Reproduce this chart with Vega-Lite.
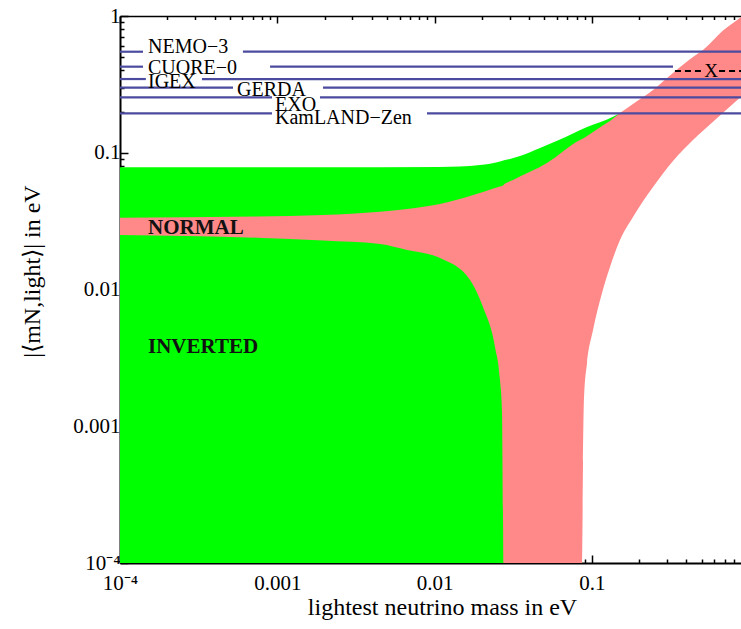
{
  "$schema": "https://vega.github.io/schema/vega-lite/v6.json",
  "width": 621,
  "height": 547,
  "autosize": {"type": "none"},
  "padding": {"left": 120, "top": 16, "right": 0, "bottom": 66},
  "background": "white",
  "config": {
    "view": {"stroke": null},
    "axis": {
      "labelFont": "Liberation Serif",
      "titleFont": "Liberation Serif",
      "labelColor": "black",
      "titleColor": "black",
      "domainColor": "black",
      "tickColor": "black",
      "grid": false,
      "labelFontSize": 21,
      "titleFontSize": 24,
      "titleFontWeight": "normal"
    }
  },
  "datasets": {
    "green": [
      {"x": 0.0001, "lo": 0.0001, "hi": 0.0782},
      {"x": 0.001954, "lo": 0.0001, "hi": 0.0782},
      {"x": 0.01084, "lo": 0.0001, "hi": 0.0787},
      {"x": 0.01453, "lo": 0.0001, "hi": 0.0793},
      {"x": 0.01947, "lo": 0.0001, "hi": 0.0813},
      {"x": 0.02609, "lo": 0.0001, "hi": 0.0863},
      {"x": 0.02806, "lo": 0.0001, "hi": 0.0885},
      {"x": 0.0302, "lo": 0.05, "hi": 0.0902},
      {"x": 0.03497, "lo": 0.055, "hi": 0.0946},
      {"x": 0.0469, "lo": 0.068, "hi": 0.1083},
      {"x": 0.0628, "lo": 0.085, "hi": 0.125},
      {"x": 0.0933, "lo": 0.11, "hi": 0.1543},
      {"x": 0.1365, "lo": 0.165, "hi": 0.1835},
      {"x": 0.1512, "lo": 0.1953, "hi": 0.1953}
    ],
    "pink": [
      {"x": 0.0001, "lo": 0.02503, "hi": 0.0335},
      {"x": 0.000743, "lo": 0.02392, "hi": 0.03419},
      {"x": 0.001954, "lo": 0.02282, "hi": 0.03506},
      {"x": 0.0045, "lo": 0.02151, "hi": 0.03706},
      {"x": 0.00669, "lo": 0.01945, "hi": 0.03879},
      {"x": 0.01084, "lo": 0.01699, "hi": 0.04218},
      {"x": 0.01682, "lo": 0.01173, "hi": 0.04828},
      {"x": 0.02034, "lo": 0.00745, "hi": 0.05164},
      {"x": 0.02425, "lo": 0.0038, "hi": 0.05524},
      {"x": 0.02609, "lo": 0.00218, "hi": 0.05666},
      {"x": 0.02687, "lo": 0.00125, "hi": 0.05714},
      {"x": 0.02727, "lo": 0.000206, "hi": 0.05762},
      {"x": 0.02747, "lo": 0.0001, "hi": 0.0581},
      {"x": 0.03157, "lo": 0.0001, "hi": 0.0632},
      {"x": 0.0519, "lo": 0.0001, "hi": 0.08414},
      {"x": 0.0842, "lo": 0.0001, "hi": 0.124},
      {"x": 0.0867, "lo": 0.0001, "hi": 0.126},
      {"x": 0.088, "lo": 0.000539, "hi": 0.1271},
      {"x": 0.0893, "lo": 0.001637, "hi": 0.1282},
      {"x": 0.0933, "lo": 0.002901, "hi": 0.1326},
      {"x": 0.1019, "lo": 0.005056, "hi": 0.1418},
      {"x": 0.1162, "lo": 0.009428, "hi": 0.1569},
      {"x": 0.1306, "lo": 0.01461, "hi": 0.1707},
      {"x": 0.1512, "lo": 0.02301, "hi": 0.1953},
      {"x": 0.1829, "lo": 0.0339, "hi": 0.2273},
      {"x": 0.2452, "lo": 0.05617, "hi": 0.2877},
      {"x": 0.3286, "lo": 0.0871, "hi": 0.383},
      {"x": 0.4404, "lo": 0.124, "hi": 0.5013},
      {"x": 0.5098, "lo": 0.145, "hi": 0.564},
      {"x": 0.6835, "lo": 0.196, "hi": 0.7834},
      {"x": 0.8894, "lo": 0.257, "hi": 0.9833},
      {"x": 1.0, "lo": 0.289, "hi": 1.106}
    ],
    "limits": [
      {"name": "NEMO-3", "y": 0.548, "x1": 0.0001, "x2": 0.00014},
      {"name": "NEMO-3", "y": 0.548, "x1": 0.000605, "x2": 1},
      {"name": "CUORE-0", "y": 0.426, "x1": 0.0001, "x2": 0.00014},
      {"name": "CUORE-0", "y": 0.426, "x1": 0.0009, "x2": 0.3286},
      {"name": "IGEX", "y": 0.346, "x1": 0.0001, "x2": 0.000146},
      {"name": "IGEX", "y": 0.346, "x1": 0.000332, "x2": 1},
      {"name": "GERDA", "y": 0.299, "x1": 0.0001, "x2": 0.000523},
      {"name": "GERDA", "y": 0.299, "x1": 0.001954, "x2": 1},
      {"name": "EXO", "y": 0.2544, "x1": 0.0001, "x2": 0.000926},
      {"name": "EXO", "y": 0.2544, "x1": 0.00187, "x2": 1},
      {"name": "KamLAND-Zen", "y": 0.1943, "x1": 0.0001, "x2": 0.000926},
      {"name": "KamLAND-Zen", "y": 0.1943, "x1": 0.00896, "x2": 1}
    ],
    "limitLabels": [
      {"label": "NEMO−3", "x": 0.0001507, "y": 0.593},
      {"label": "CUORE−0", "x": 0.0001507, "y": 0.4166},
      {"label": "IGEX", "x": 0.0001507, "y": 0.3293},
      {"label": "GERDA", "x": 0.000555, "y": 0.2877},
      {"label": "EXO", "x": 0.000968, "y": 0.2234},
      {"label": "KamLAND−Zen", "x": 0.000968, "y": 0.181}
    ],
    "regionLabels": [
      {"label": "NORMAL", "x": 0.0001507, "y": 0.02817},
      {"label": "INVERTED", "x": 0.0001507, "y": 0.0038}
    ],
    "dashes": [
      {"x1": 0.338, "x2": 0.51, "y": 0.396},
      {"x1": 0.645, "x2": 1, "y": 0.396}
    ],
    "xmark": [
      {"label": "X", "x": 0.5735, "y": 0.396}
    ]
  },
  "layer": [
    {
      "data": {"name": "green"},
      "mark": {"type": "area", "color": "#00ff00", "opacity": 1, "clip": true, "interpolate": "monotone"},
      "encoding": {
        "x": {
          "field": "x", "type": "quantitative",
          "scale": {"type": "log", "domain": [0.0001, 0.8894], "nice": false},
          "axis": {
            "orient": "bottom",
            "values": [0.0001,0.0002,0.0003,0.0004,0.0005,0.0006,0.0007,0.0008,0.0009,0.001,0.002,0.003,0.004,0.005,0.006,0.007,0.008,0.009,0.01,0.02,0.03,0.04,0.05,0.06,0.07,0.08,0.09,0.1,0.2,0.3,0.4,0.5,0.6,0.7,0.8],
            "labelExpr": "datum.value == 0.0001 ? '10⁻⁴' : datum.value == 0.001 ? '0.001' : datum.value == 0.01 ? '0.01' : datum.value == 0.1 ? '0.1' : datum.value == 1 ? '1' : ''",
            "tickSize": {"condition": {"test": "datum.value == 0.0001 || datum.value == 0.001 || datum.value == 0.01 || datum.value == 0.1 || datum.value == 1", "value": -8}, "value": -4},
            "tickWidth": 1.5,
            "domainWidth": 2,
            "labelPadding": 17,
            "labelOverlap": false,
            "labelFlush": false,
            "labelBound": false,
            "title": "lightest neutrino mass in eV",
            "titleX": 322,
            "titleY": 44,
            "titleBaseline": "middle"
          }
        },
        "y": {
          "field": "hi", "type": "quantitative",
          "scale": {"type": "log", "domain": [0.0001, 1], "nice": false},
          "axis": {
            "orient": "left",
            "values": [0.0001,0.0002,0.0003,0.0004,0.0005,0.0006,0.0007,0.0008,0.0009,0.001,0.002,0.003,0.004,0.005,0.006,0.007,0.008,0.009,0.01,0.02,0.03,0.04,0.05,0.06,0.07,0.08,0.09,0.1,0.2,0.3,0.4,0.5,0.6,0.7,0.8,0.9,1],
            "labelExpr": "datum.value == 0.0001 ? '10⁻⁴' : datum.value == 0.001 ? '0.001' : datum.value == 0.01 ? '0.01' : datum.value == 0.1 ? '0.1' : datum.value == 1 ? '1' : ''",
            "tickSize": {"condition": {"test": "datum.value == 0.0001 || datum.value == 0.001 || datum.value == 0.01 || datum.value == 0.1 || datum.value == 1", "value": -8}, "value": -4},
            "tickWidth": 1.5,
            "domainWidth": 2,
            "labelPadding": 8,
            "labelOverlap": false,
            "labelFlush": false,
            "labelBound": false,
            "title": "|⟨mN,light⟩| in eV",
            "titleX": -88,
            "titleY": 255,
            "titleAngle": 270,
            "titleBaseline": "middle",
            "titleAlign": "center"
          }
        },
        "y2": {"field": "lo"}
      }
    },
    {
      "data": {"name": "pink"},
      "mark": {"type": "area", "color": "#ff8888", "opacity": 1, "clip": true, "interpolate": "monotone"},
      "encoding": {
        "x": {"field": "x", "type": "quantitative", "axis": null},
        "y": {"field": "hi", "type": "quantitative", "axis": null},
        "y2": {"field": "lo"}
      }
    },
    {
      "data": {"name": "limits"},
      "mark": {"type": "rule", "color": "#4b4b9f", "strokeWidth": 2.2, "clip": true},
      "encoding": {
        "x": {
          "field": "x1", "type": "quantitative",
          "axis": {
            "orient": "top",
            "values": [0.0001,0.0002,0.0003,0.0004,0.0005,0.0006,0.0007,0.0008,0.0009,0.001,0.002,0.003,0.004,0.005,0.006,0.007,0.008,0.009,0.01,0.02,0.03,0.04,0.05,0.06,0.07,0.08,0.09,0.1,0.2,0.3,0.4,0.5,0.6,0.7,0.8],
            "labels": false,
            "title": null,
            "tickSize": {"condition": {"test": "datum.value == 0.0001 || datum.value == 0.001 || datum.value == 0.01 || datum.value == 0.1 || datum.value == 1", "value": -7}, "value": -3.5},
            "tickWidth": 1.5,
            "domainWidth": 1.5
          }
        },
        "x2": {"field": "x2"},
        "y": {"field": "y", "type": "quantitative", "axis": null}
      }
    },
    {
      "data": {"name": "dashes"},
      "mark": {"type": "rule", "color": "black", "strokeWidth": 2, "strokeDash": [6, 4], "clip": true},
      "encoding": {
        "x": {"field": "x1", "type": "quantitative", "axis": null},
        "x2": {"field": "x2"},
        "y": {"field": "y", "type": "quantitative", "axis": null}
      }
    },
    {
      "data": {"name": "xmark"},
      "mark": {"type": "text", "font": "Liberation Serif", "fontSize": 19, "color": "black", "align": "center", "baseline": "middle"},
      "encoding": {
        "x": {"field": "x", "type": "quantitative", "axis": null},
        "y": {"field": "y", "type": "quantitative", "axis": null},
        "text": {"field": "label"}
      }
    },
    {
      "data": {"name": "limitLabels"},
      "mark": {"type": "text", "font": "Liberation Serif", "fontSize": 20, "color": "black", "align": "left", "baseline": "middle"},
      "encoding": {
        "x": {"field": "x", "type": "quantitative", "axis": null},
        "y": {"field": "y", "type": "quantitative", "axis": null},
        "text": {"field": "label"}
      }
    },
    {
      "data": {"name": "regionLabels"},
      "mark": {"type": "text", "font": "Liberation Serif", "fontSize": 21, "fontWeight": "bold", "color": "#111111", "align": "left", "baseline": "middle"},
      "encoding": {
        "x": {"field": "x", "type": "quantitative", "axis": null},
        "y": {"field": "y", "type": "quantitative", "axis": null},
        "text": {"field": "label"}
      }
    }
  ],
  "resolve": {"axis": {"x": "independent", "y": "independent"}}
}
